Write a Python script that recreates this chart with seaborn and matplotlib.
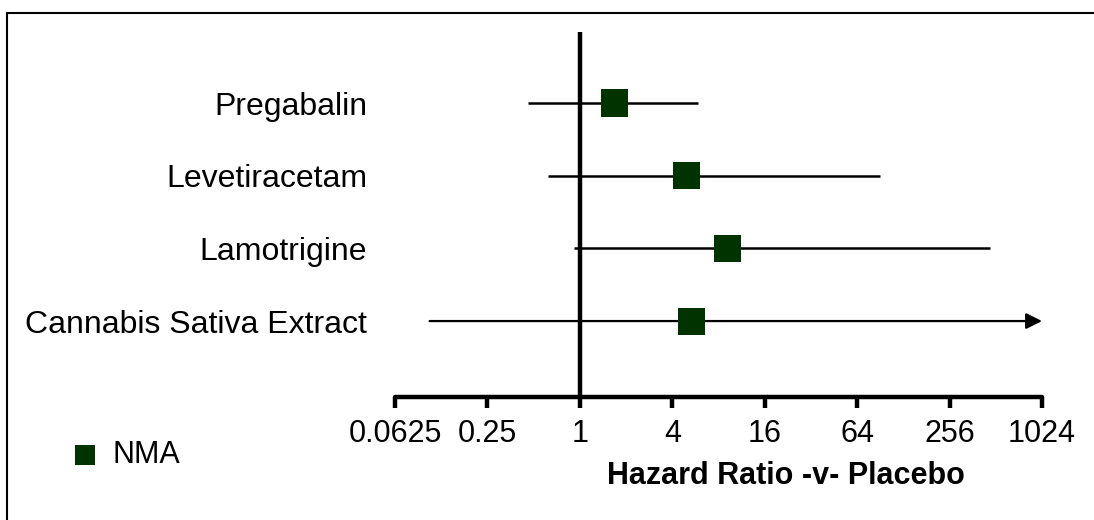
import numpy as np
import pandas as pd
import matplotlib
matplotlib.use("Agg")
import matplotlib.pyplot as plt
import seaborn as sns
from matplotlib.patches import Rectangle

# Data
drugs = ["Pregabalin", "Levetiracetam", "Lamotrigine", "Cannabis Sativa Extract"]
hr = [1.69, 4.98, 9.2, 5.36]
ci_low = [0.46, 0.62, 0.91, 0.105]
ci_high = [5.9, 90, 466, 2000]   # last one runs off the scale (arrow)

ticks = [0.0625, 0.25, 1, 4, 16, 64, 256, 1024]
tick_labels = ["0.0625", "0.25", "1", "4", "16", "64", "256", "1024"]

df = pd.DataFrame({"Drug": drugs, "HR": hr, "Low": ci_low, "High": ci_high})

sns.set_style("white")
plt.rcParams["font.family"] = ["Liberation Sans", "DejaVu Sans"]
plt.rcParams["text.color"] = "black"
plt.rcParams["xtick.color"] = "black"
plt.rcParams["ytick.color"] = "black"
plt.rcParams["axes.labelcolor"] = "black"

W, H = 1094, 520
fig = plt.figure(figsize=(W / 100, H / 100), dpi=100)
ax = fig.add_axes([395 / W, 1 - 397 / H, (1042 - 395) / W, (397 - 32) / H])

xmin, xmax = ticks[0], ticks[-1]
green = "#003300"

# confidence intervals
for i, row in df.iterrows():
    if row["High"] > xmax:
        ax.annotate("", xy=(xmax, i), xytext=(row["Low"], i),
                    arrowprops=dict(arrowstyle="-|>", color="black", lw=1.6,
                                    mutation_scale=24, shrinkA=0, shrinkB=0),
                    annotation_clip=False, zorder=2)
    else:
        ax.hlines(i, row["Low"], row["High"], color="black", lw=1.8, zorder=2)

# reference line at HR = 1
ax.axvline(1, color="black", lw=3.2, zorder=3)

sns.scatterplot(data=df, x="HR", y="Drug", marker="s", s=380, color=green,
                edgecolor="none", linewidth=0, label="NMA", zorder=4, ax=ax)

ax.set_xscale("log", base=2)
ax.set_xlim(xmin, xmax)
ax.set_ylim(len(drugs) - 1 + 1.045, -0.977)
ax.set_xticks(ticks)
ax.set_xticklabels(tick_labels)
ax.minorticks_off()

for s in ["top", "right", "left"]:
    ax.spines[s].set_visible(False)
ax.spines["bottom"].set_linewidth(3.2)
ax.spines["bottom"].set_color("black")
ax.spines["bottom"].set_capstyle("round")

ax.tick_params(axis="x", bottom=True, direction="out", length=8, width=3.2,
               color="black", labelsize=22, pad=8)
ax.tick_params(axis="y", left=False, length=0, labelsize=23, pad=20)
ax.set_xlabel("")
ax.set_ylabel("")

fig.text(786 / W, 1 - 476 / H, "Hazard Ratio -v- Placebo", fontsize=22,
         fontweight="bold", ha="center", va="center")

ax.legend(loc="center left", bbox_to_anchor=(70 / W, 1 - 455 / H),
          bbox_transform=fig.transFigure, frameon=False, fontsize=22,
          markerscale=0.74, handlelength=1.0, handletextpad=0.4,
          borderpad=0, borderaxespad=0)

# outer border (runs past the right/bottom edge in the reference)
fig.patches.append(Rectangle((7 / W, -0.1), 1.2, 1 - 13 / H + 0.1,
                             transform=fig.transFigure, fill=False,
                             edgecolor="black", lw=1.5))

fig.savefig("out.png", dpi=100)
